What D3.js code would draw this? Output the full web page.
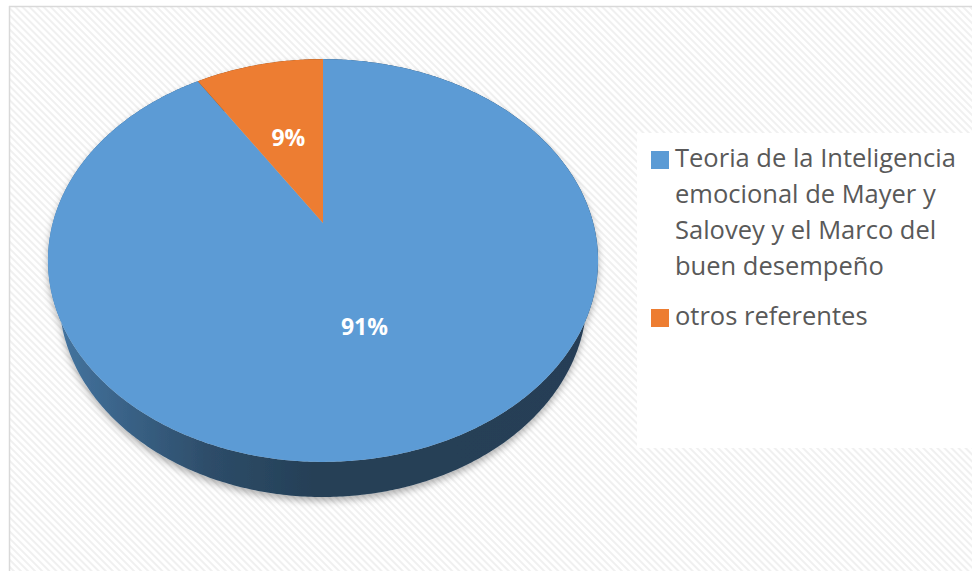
<!DOCTYPE html>
<html>
<head>
<meta charset="utf-8">
<script src="https://cdn.jsdelivr.net/npm/d3@7"></script>
<style>
  html, body { margin: 0; padding: 0; background: #ffffff; }
  svg { display: block; }
</style>
</head>
<body>
<svg id="chart" width="972" height="571"></svg>
<script>
// Chart data
const categories = [
  "Teoria de la Inteligencia emocional de Mayer y Salovey y el Marco del buen desempeño",
  "otros referentes"
];
const values = [91, 9];
const colors = ["#5b9bd5", "#ed7d31"];

const W = 972, H = 571;
const svg = d3.select("#chart");
const defs = svg.append("defs");

// Faint diagonal texture for the chart area
const pat = defs.append("pattern")
  .attr("id", "texture")
  .attr("patternUnits", "userSpaceOnUse")
  .attr("width", 5).attr("height", 5)
  .attr("patternTransform", "rotate(-45)");
pat.append("rect").attr("width", 5).attr("height", 5).attr("fill", "#ffffff");
pat.append("rect").attr("width", 2).attr("height", 5).attr("fill", "#f0f0f0");

// Soft shadow under the pie
const shadow = defs.append("filter")
  .attr("id", "pieShadow")
  .attr("x", "-10%").attr("y", "-10%").attr("width", "120%").attr("height", "130%");
shadow.append("feDropShadow")
  .attr("dx", 0).attr("dy", 4).attr("stdDeviation", 3.5)
  .attr("flood-color", "#000").attr("flood-opacity", 0.3);

// Chart area with its border (top and left edges visible)
svg.append("rect").attr("x", 9).attr("y", 7).attr("width", W - 9).attr("height", H - 7)
  .attr("fill", "url(#texture)");
svg.append("line").attr("x1", 9).attr("x2", W).attr("y1", 6.5).attr("y2", 6.5)
  .attr("stroke", "#d9d9d9").attr("stroke-width", 1.5);
svg.append("line").attr("x1", 9.5).attr("x2", 9.5).attr("y1", 6).attr("y2", H)
  .attr("stroke", "#d9d9d9").attr("stroke-width", 1.5);

// Perspective camera for a tilted 3D pie (unit radius, thickness in radius units)
const cam = {
  cx: 323, cy: 223,      // screen position of the pie centre
  F: 1008,               // focal scale
  d: 3.73,               // camera distance
  tilt: 46 * Math.PI / 180,
  thick: 0.212
};
const sinT = Math.sin(cam.tilt), cosT = Math.cos(cam.tilt);
// angle measured clockwise from 12 o'clock, r radial fraction, w height (0 = top face)
function project(a, r, w) {
  const u = r * Math.sin(a), v = r * Math.cos(a);
  const depth = cam.d + v * cosT - w * sinT;
  return [cam.cx + cam.F * u / depth, cam.cy - cam.F * (w * cosT + v * sinT) / depth];
}
function arcPoints(a0, a1, w) {
  const n = Math.max(2, Math.ceil(Math.abs(a1 - a0) / 0.01));
  return d3.range(n + 1).map(i => project(a0 + (a1 - a0) * i / n, 1, w));
}

const pie = d3.pie().sort(null).value(d => d)(values);
const total = d3.sum(values);
const line = d3.line();

const g = svg.append("g").attr("filter", "url(#pieShadow)");

// Side walls: shaded horizontally, lighter on the left
pie.forEach((p, i) => {
  const gid = "side" + i;
  const base = d3.rgb(colors[i]);
  const grad = defs.append("linearGradient").attr("id", gid)
    .attr("gradientUnits", "userSpaceOnUse")
    .attr("x1", cam.cx - 275).attr("x2", cam.cx + 275).attr("y1", 0).attr("y2", 0);
  [[0, 0.75], [0.12, 1.2], [0.3, 2.0], [0.48, 2.5], [1, 2.55]].forEach(([o, k]) => {
    grad.append("stop").attr("offset", o).attr("stop-color", base.darker(k).formatHex());
  });
  const top = arcPoints(p.startAngle, p.endAngle, 0);
  const bottom = arcPoints(p.startAngle, p.endAngle, -cam.thick).reverse();
  g.append("path")
    .attr("d", line(top.concat(bottom)) + "Z")
    .attr("fill", `url(#${gid})`);
});

// Top faces
pie.forEach((p, i) => {
  const pts = [project(0, 0, 0)].concat(arcPoints(p.startAngle, p.endAngle, 0));
  g.append("path")
    .attr("d", line(pts) + "Z")
    .attr("fill", colors[i]);
});

// Percentage labels at the middle of each slice
pie.forEach((p, i) => {
  const mid = (p.startAngle + p.endAngle) / 2;
  const [x, y] = project(mid, 0.5, 0);
  svg.append("text")
    .attr("x", x).attr("y", y)
    .attr("text-anchor", "middle")
    .attr("dominant-baseline", "central")
    .attr("font-family", "'Open Sans', sans-serif")
    .attr("font-weight", 700)
    .attr("font-size", 23)
    .attr("fill", "#ffffff")
    .text(Math.round(p.value / total * 100) + "%");
});

// Legend
const legend = svg.append("g");
legend.append("rect").attr("x", 637).attr("y", 133).attr("width", W - 637).attr("height", 315)
  .attr("fill", "#ffffff");

const legendFont = "'Open Sans', sans-serif", legendSize = 25.5, lineH = 36, maxW = 295;
let yCursor = 167;
categories.forEach((name, i) => {
  const t = legend.append("text")
    .attr("font-family", legendFont).attr("font-size", legendSize)
    .attr("fill", "#595959");
  // wrap words into lines no wider than maxW
  const words = name.split(" ");
  let lines = [], cur = "";
  const probe = legend.append("text").attr("font-family", legendFont).attr("font-size", legendSize);
  words.forEach(wd => {
    const test = cur ? cur + " " + wd : wd;
    probe.text(test);
    if (probe.node().getComputedTextLength() > maxW && cur) { lines.push(cur); cur = wd; }
    else cur = test;
  });
  lines.push(cur);
  probe.remove();
  legend.append("rect")
    .attr("x", 651).attr("y", yCursor - 16).attr("width", 18).attr("height", 18)
    .attr("fill", colors[i]);
  lines.forEach((ln, j) => {
    t.append("tspan").attr("x", 675).attr("y", yCursor + j * lineH).text(ln);
  });
  yCursor += (lines.length - 1) * lineH + 50;
});
</script>
</body>
</html>
